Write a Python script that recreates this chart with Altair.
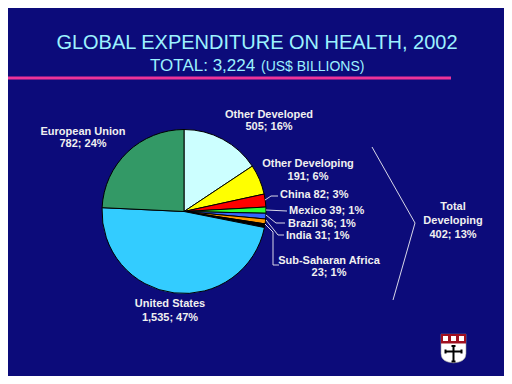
import altair as alt
import pandas as pd

# ---- data ----
categories = ["Other Developed", "Other Developing", "China", "Mexico", "Brazil",
              "India", "Sub-Saharan Africa", "United States", "European Union"]
values = [505, 191, 82, 39, 36, 31, 23, 1535, 782]
percents = [16, 6, 3, 1, 1, 1, 1, 47, 24]
slice_colors = ["#ccffff", "#ffff00", "#ff0000", "#33ff33", "#3366ff",
                "#ff9900", "#000000", "#33ccff", "#339966"]
total_value = "3,224"
developing_value = 402
developing_pct = 13

title_text = "GLOBAL EXPENDITURE ON HEALTH, 2002"
subtitle_main = f"TOTAL: {total_value}"
subtitle_unit = "(US$ BILLIONS)"

# ---- styling / layout (chart pixel coordinates) ----
W, H = 496, 368
BG = "#0c0b7a"
TITLE_COLOR = "#9cf2ff"
LABEL_COLOR = "#f0f0f0"
PIE_X, PIE_Y, PIE_R = 176, 203.5, 82
FONT = "Liberation Sans"

pie_df = pd.DataFrame({
    "category": categories,
    "value": values,
    "color": slice_colors,
    "order": list(range(len(categories))),
})

pie = alt.Chart(pie_df).mark_arc(
    outerRadius=PIE_R, stroke="black", strokeWidth=1
).encode(
    theta=alt.Theta("value:Q", stack=True),
    order=alt.Order("order:Q"),
    color=alt.Color("color:N", scale=None),
    x=alt.value(PIE_X),
    y=alt.value(PIE_Y),
)

# label text built from the data lists
def lab(i):
    return f"{values[i]:,}; {percents[i]}%"

center_labels = pd.DataFrame([
    {"t": categories[8], "x": 75, "y": 124},
    {"t": lab(8), "x": 75, "y": 136},
    {"t": categories[0], "x": 261, "y": 107},
    {"t": lab(0), "x": 261, "y": 119},
    {"t": categories[1], "x": 300, "y": 156},
    {"t": lab(1), "x": 300, "y": 169},
    {"t": categories[6], "x": 321, "y": 253},
    {"t": lab(6), "x": 321, "y": 265},
    {"t": categories[7], "x": 162, "y": 296},
    {"t": lab(7), "x": 162, "y": 310},
    {"t": "Total", "x": 445, "y": 199},
    {"t": "Developing", "x": 445, "y": 213},
    {"t": f"{developing_value}; {developing_pct}%", "x": 445, "y": 227},
])
left_labels = pd.DataFrame([
    {"t": f"{categories[2]} {lab(2)}", "x": 272, "y": 187},
    {"t": f"{categories[3]} {lab(3)}", "x": 281, "y": 203},
    {"t": f"{categories[4]} {lab(4)}", "x": 280, "y": 216},
    {"t": f"{categories[5]} {lab(5)}", "x": 278, "y": 228},
])

def text_layer(df, align):
    return alt.Chart(df).mark_text(
        align=align, baseline="middle", font=FONT, fontSize=11,
        fontWeight="bold", color=LABEL_COLOR
    ).encode(
        x=alt.X("x:Q", scale=None, axis=None),
        y=alt.Y("y:Q", scale=None, axis=None),
        text="t:N",
    )

labels_c = text_layer(center_labels, "center")
labels_l = text_layer(left_labels, "left")

# leader lines and bracket
segments = pd.DataFrame([
    (257, 192, 263, 188), (263, 188, 270, 188),
    (258, 202, 279, 203),
    (258, 207, 268, 215), (268, 215, 277, 215),
    (258, 212, 270, 227), (270, 227, 276, 227),
    (257, 216, 265, 224), (265, 224, 265, 257), (265, 257, 271, 257),
    (364, 139, 407, 215), (407, 215, 385, 292),
], columns=["x", "y", "x2", "y2"])

leaders = alt.Chart(segments).mark_rule(color="#d8d8e8", strokeWidth=1).encode(
    x=alt.X("x:Q", scale=None, axis=None),
    y=alt.Y("y:Q", scale=None, axis=None),
    x2="x2:Q",
    y2="y2:Q",
)

# title texts
title_df = pd.DataFrame([{"t": title_text}])
title = alt.Chart(title_df).mark_text(
    align="center", baseline="alphabetic", font=FONT, fontSize=20, color=TITLE_COLOR
).encode(x=alt.value(249), y=alt.value(41), text="t:N")

sub1 = alt.Chart(pd.DataFrame([{"t": subtitle_main}])).mark_text(
    align="left", baseline="alphabetic", font=FONT, fontSize=17, color=TITLE_COLOR
).encode(x=alt.value(142), y=alt.value(63), text="t:N")

sub2 = alt.Chart(pd.DataFrame([{"t": subtitle_unit}])).mark_text(
    align="left", baseline="alphabetic", font=FONT, fontSize=14, color=TITLE_COLOR
).encode(x=alt.value(253), y=alt.value(63), text="t:N")

pink = alt.Chart(pd.DataFrame([{"a": 1}])).mark_rule(
    color="#ee3399", strokeWidth=3
).encode(x=alt.value(0), x2=alt.value(443), y=alt.value(70))

# logo (shield)
shield = alt.Chart(pd.DataFrame([{"a": 1}])).mark_point(
    shape="M-1,-1.15 L1,-1.15 L1,0.4 Q1,1.1 0,1.15 Q-1,1.1 -1,0.4 Z",
    filled=True, fill="white", stroke="#9a9a9a", strokeWidth=0.6,
    size=625, opacity=1
).encode(x=alt.value(445.5), y=alt.value(340.5))

logo_rects = pd.DataFrame([
    (433, 326, 458, 335.5, "#a01020"),
    (435, 328, 440, 333, "#ffffff"),
    (443, 328, 448, 333, "#ffffff"),
    (451, 328, 456, 333, "#ffffff"),
    (444.5, 337.5, 446.5, 354, "#000000"),
    (437, 342.5, 454, 344.5, "#000000"),
    (443.5, 337, 447.5, 339, "#000000"),
    (443.5, 352.5, 447.5, 354.5, "#000000"),
    (436.5, 341.5, 438.5, 345.5, "#000000"),
    (452.5, 341.5, 454.5, 345.5, "#000000"),
], columns=["x", "y", "x2", "y2", "c"])

logo = alt.Chart(logo_rects).mark_rect().encode(
    x=alt.X("x:Q", scale=None, axis=None),
    y=alt.Y("y:Q", scale=None, axis=None),
    x2="x2:Q",
    y2="y2:Q",
    color=alt.Color("c:N", scale=None),
)

chart = alt.layer(
    pink, title, sub1, sub2, pie, leaders, labels_c, labels_l, shield, logo
).properties(
    width=W, height=H, background=BG, padding=0,
    autosize=alt.AutoSizeParams(type="none"),
).configure_view(stroke=None)

chart.save("out.html", embed_options={"renderer": "svg", "actions": False})
